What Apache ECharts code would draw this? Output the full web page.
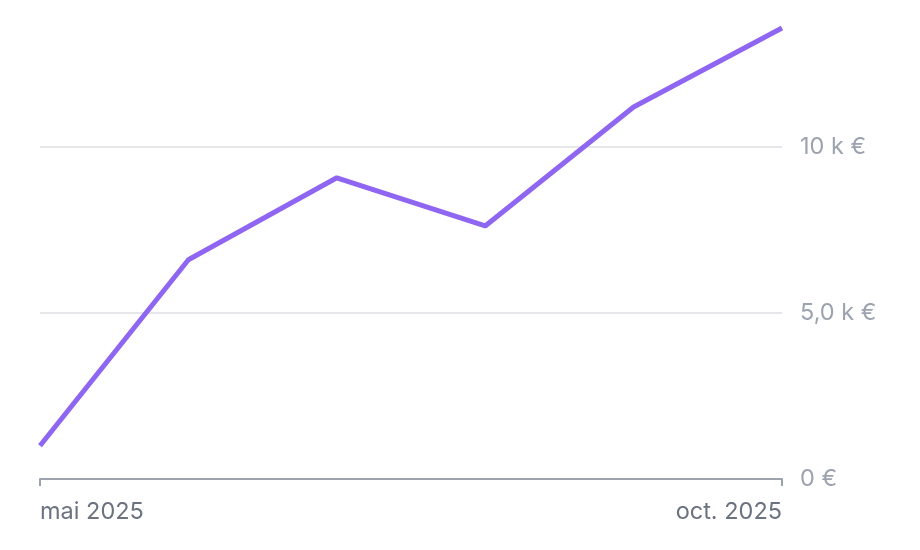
<!DOCTYPE html>
<html>
<head>
<meta charset="utf-8">
<script src="https://cdn.jsdelivr.net/npm/echarts@6/dist/echarts.min.js"></script>
<style>
  html, body { margin: 0; padding: 0; background: #fff; }
  #chart { width: 920px; height: 550px; }
</style>
</head>
<body>
<div id="chart"></div>
<script>
const months = ['mai 2025', 'juin 2025', 'juil. 2025', 'août 2025', 'sept. 2025', 'oct. 2025']
const revenue = [1000, 6600, 9070, 7620, 11200, 13580]
const yTicks = [0, 5000, 10000]

function euroK(v) {
  if (v === 0) return '0 €'
  const k = v / 1000
  // one decimal under 10 k, none above
  return (k < 10 ? k.toFixed(1).replace('.', ',') : Math.round(k)) + ' k €'
}

const lastIdx = months.length - 1
const myChart = echarts.init(document.getElementById('chart'))
myChart.setOption({
  animation: false,
  grid: { top: 28, left: 40, right: 138, bottom: 71 },
  xAxis: {
    type: 'category',
    data: months,
    boundaryGap: false,
    axisLine: { lineStyle: { color: '#9ca3af', width: 2 } },
    axisTick: {
      show: true,
      length: 7,
      interval: (i) => i === 0 || i === lastIdx,
      lineStyle: { color: '#9ca3af', width: 2 }
    },
    axisLabel: {
      interval: (i) => i === 0 || i === lastIdx,
      color: '#6b7280',
      fontFamily: 'Inter',
      fontSize: 23.5,
      margin: 21,
      alignMinLabel: 'left',
      alignMaxLabel: 'right'
    }
  },
  yAxis: {
    type: 'value',
    position: 'right',
    min: 0,
    max: 'dataMax',
    interval: 5000,
    axisLine: { show: false },
    axisTick: { show: false },
    splitLine: { showMaxLine: false, showMinLine: false, lineStyle: { color: '#e5e7eb', width: 2 } },
    axisLabel: {
      showMaxLabel: false,
      color: '#9ca3af',
      fontFamily: 'Inter',
      fontSize: 23.5,
      margin: 18,
      verticalAlign: 'middle',
      padding: [4, 0, 0, 0],
      formatter: (v) => yTicks.includes(v) ? euroK(v) : ''
    }
  },
  series: [{
    type: 'line',
    data: revenue,
    showSymbol: false,
    lineStyle: { color: '#8f66f1', width: 5 },
    itemStyle: { color: '#8f66f1' }
  }]
})
</script>
</body>
</html>
